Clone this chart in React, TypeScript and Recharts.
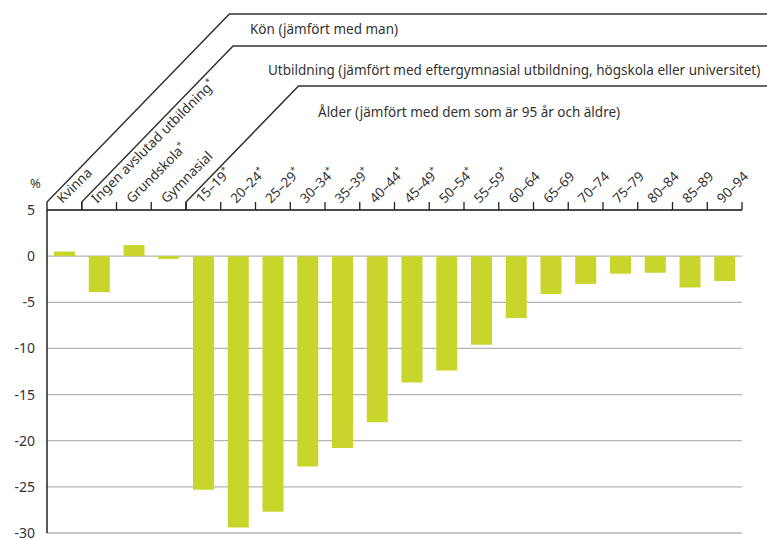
import { BarChart, Bar, CartesianGrid, XAxis, YAxis } from 'recharts'

const categories = [
  'Kvinna',
  'Ingen avslutad utbildning*',
  'Grundskola*',
  'Gymnasial',
  '15–19*',
  '20–24*',
  '25–29*',
  '30–34*',
  '35–39*',
  '40–44*',
  '45–49*',
  '50–54*',
  '55–59*',
  '60–64',
  '65–69',
  '70–74',
  '75–79',
  '80–84',
  '85–89',
  '90–94',
]
const values = [
  0.5, -3.9, 1.2, -0.3, -25.3, -29.4, -27.7, -22.8, -20.8, -18.0, -13.7, -12.4, -9.6, -6.7, -4.1,
  -3.0, -1.9, -1.8, -3.4, -2.7,
]
const yTicks = [5, 0, -5, -10, -15, -20, -25, -30]

// reference groups drawn in the header: label, first category index
const groupLabels = [
  'Kön (jämfört med man)',
  'Utbildning (jämfört med eftergymnasial utbildning, högskola eller universitet)',
  'Ålder (jämfört med dem som är 95 år och äldre)',
]
const groupStart = [0, 1, 4]

const W = 767
const H = 540
const PLOT_LEFT = 47
const PLOT_RIGHT = 742
const PLOT_TOP = 210
const PLOT_BOTTOM = 533
const AXIS_H = 20
const STEP = (PLOT_RIGHT - PLOT_LEFT) / categories.length
const FONT = '"Noto Sans", sans-serif'
const BAR = '#c8d52a'
const INK = '#333'

const ruleY = [14, 46, 86]
const textPos = [
  { x: 250, y: 34 },
  { x: 268, y: 75 },
  { x: 318, y: 117 },
]

const data = categories.map((name, i) => ({ name, value: values[i] }))

function CategoryTick(props: any) {
  const { x, payload } = props
  const label: string = payload.value
  const star = label.endsWith('*')
  const text = star ? label.slice(0, -1) : label
  const bx = x + STEP / 2
  const ax = x - 2
  const ay = PLOT_TOP - 6
  return (
    <g>
      <line x1={bx} y1={PLOT_TOP} x2={bx} y2={PLOT_TOP - 8} stroke="#222" strokeWidth={1.3} />
      <text
        x={ax}
        y={ay}
        transform={`rotate(-45, ${ax}, ${ay})`}
        fontFamily={FONT}
        fontSize={13.5}
        fill={INK}
        textAnchor="start"
      >
        {text}
        {star && (
          <tspan dy={-5} fontSize={9}>
            *
          </tspan>
        )}
      </text>
    </g>
  )
}

function Header() {
  return (
    <g>
      {groupStart.map((idx, i) => {
        const x0 = PLOT_LEFT + idx * STEP
        const y0 = PLOT_TOP - 8
        const x1 = x0 + (y0 - ruleY[i]) * 0.97
        return (
          <g key={i}>
            <polyline
              points={`${x0},${PLOT_TOP} ${x0},${y0} ${x1},${ruleY[i]} ${W},${ruleY[i]}`}
              fill="none"
              stroke="#333"
              strokeWidth={1.5}
            />
            <text x={textPos[i].x} y={textPos[i].y} fontFamily={FONT} fontSize={13.5} fill={INK}>
              {groupLabels[i]}
            </text>
          </g>
        )
      })}
      <text x={30} y={188} fontFamily={FONT} fontSize={13} fill={INK}>
        %
      </text>
    </g>
  )
}

export default function App() {
  return (
    <div style={{ position: 'absolute', left: 0, top: 0, width: W, height: H, background: '#fff' }}>
      <BarChart
        width={W}
        height={H}
        data={data}
        margin={{ top: PLOT_TOP - AXIS_H, right: W - PLOT_RIGHT, bottom: H - PLOT_BOTTOM, left: 7 }}
      >
        <CartesianGrid vertical={false} stroke="#b5b5b5" strokeWidth={1.3} />
        <XAxis
          dataKey="name"
          orientation="top"
          height={AXIS_H}
          interval={0}
          axisLine={{ stroke: '#222', strokeWidth: 1.5 }}
          tickLine={false}
          tick={<CategoryTick />}
        />
        <YAxis
          type="number"
          domain={[-30, 5]}
          ticks={yTicks}
          width={40}
          interval={0}
          tickSize={0}
          tickMargin={12}
          tickLine={false}
          axisLine={{ stroke: '#222', strokeWidth: 1.5 }}
          tick={{ fontFamily: FONT, fontSize: 14, fill: INK }}
        />
        <Bar dataKey="value" fill={BAR} barSize={21} isAnimationActive={false} />
        <Header />
      </BarChart>
    </div>
  )
}
